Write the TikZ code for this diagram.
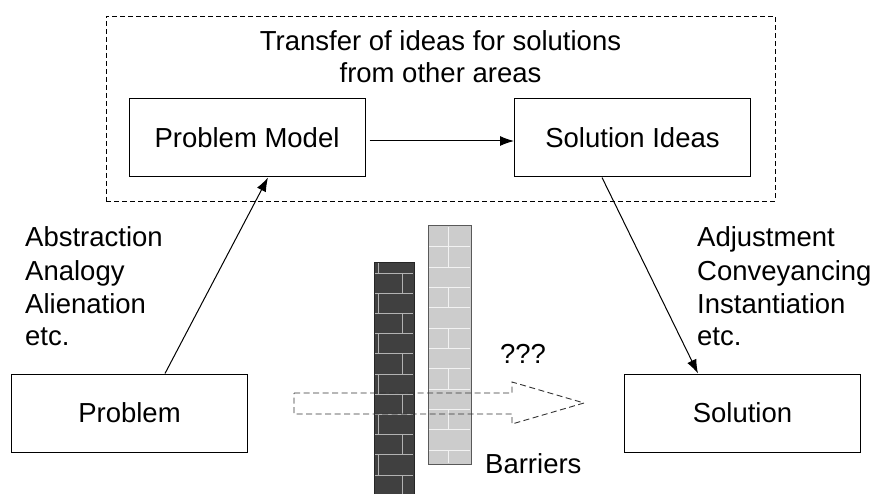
\documentclass[tikz,border=0pt]{standalone}
\usepackage{fontspec}
\setmainfont{Liberation Sans}
\usetikzlibrary{arrows.meta}
\definecolor{darkbrick}{HTML}{404040}
\definecolor{lightbrick}{HTML}{CCCCCC}
\begin{document}
\begin{tikzpicture}[x=1pt,y=-1pt,
  every node/.style={font=\fontsize{27.5}{33}\selectfont},
  box/.style={draw, line width=1pt, minimum width=236pt, minimum height=78pt, inner sep=0pt},
  area/.style={draw, line width=0.9pt, dash pattern=on 5pt off 3pt, minimum width=669pt, minimum height=185pt, inner sep=0pt},
  txt/.style={inner sep=0pt, anchor=base west},
  conn/.style={line width=1pt, -{Latex[length=14pt,width=10pt]}},
  darkmortar/.style={draw=black!30, line width=0.9pt},
  lightmortar/.style={draw=white!95!black, line width=1pt},
  ghost/.style={draw=black!80, line width=0.9pt, dash pattern=on 6pt off 3.5pt}
]
\useasboundingbox (0,0) rectangle (875,494);

% dashed region
\node[area] (region) at (440.5,108.5) {};
\node[inner sep=0pt, anchor=base] (title1) at (440.5,51) {Transfer of ideas for solutions};
\node[inner sep=0pt, anchor=base] (title2) at (440.5,83) {from other areas};

% boxes
\node[box] (pm) at (247,138) {Problem Model};
\node[box] (si) at (632.5,138) {Solution Ideas};
\node[box] (prob) at (129.5,413) {Problem};
\node[box] (sol) at (742.5,413) {Solution};

% connectors
\draw[conn, shorten <=4pt] ([yshift=-3pt]pm.east) -- ([yshift=-3pt]si.west);
\draw[conn] ([xshift=35.5pt]prob.north) -- ([xshift=21pt]pm.south);
\draw[conn] ([xshift=-30.5pt]si.south) -- ([xshift=-44.5pt]sol.north);

% side labels
\node[txt] (l1) at (25,247) {Abstraction};
\node[txt] (l2) at (25,280) {Analogy};
\node[txt] (l3) at (25,313) {Alienation};
\node[txt] (l4) at (25,345) {etc.};
\node[txt] (r1) at (697,247) {Adjustment};
\node[txt] (r2) at (697,280) {Conveyancing};
\node[txt] (r3) at (697,313) {Instantiation};
\node[txt] (r4) at (697,345) {etc.};

% dark wall
\fill[darkbrick] (374,262) rectangle (414,500);
\foreach \i in {0,...,10} {
  \pgfmathsetmacro\yy{273+20.2*\i}
  \draw[darkmortar] (375,\yy) -- (413,\yy);
}
\foreach \i in {-1,...,10} {
  \pgfmathsetmacro\ya{max(262,273+20.2*\i)}
  \pgfmathsetmacro\yb{273+20.2*(\i+1)}
  \pgfmathsetmacro\xx{isodd(\i) ? 378 : 402}
  \draw[darkmortar] (\xx,\ya) -- (\xx,\yb);
}
\draw[line width=0.9pt, draw=black!85] (374,500) -- (374,262) -- (414,262) -- (414,500);

% light wall
\fill[lightbrick] (428,225) rectangle (471,464);
\foreach \i in {0,...,10} {
  \pgfmathsetmacro\yy{247+20.3*\i}
  \draw[lightmortar] (429,\yy) -- (470,\yy);
}
\foreach \i in {-1,0,2,4,6,8,10} {
  \pgfmathsetmacro\ya{max(226,247+20.3*\i)}
  \pgfmathsetmacro\yb{min(463,247+20.3*(\i+1))}
  \draw[lightmortar] (448,\ya) -- (448,\yb);
}
\draw[line width=0.9pt, draw=black!65] (428,225) rectangle (471,464);

% dashed arrow through the barriers
\draw[ghost] (294,393) -- (512,393) -- (512,382) -- (584,403) -- (512,424) -- (512,414) -- (294,414) -- cycle;

\node[inner sep=0pt, anchor=base] (q) at (523,363) {???};
\node[txt] (barriers) at (485,473) {Barriers};
\end{tikzpicture}
\end{document}
